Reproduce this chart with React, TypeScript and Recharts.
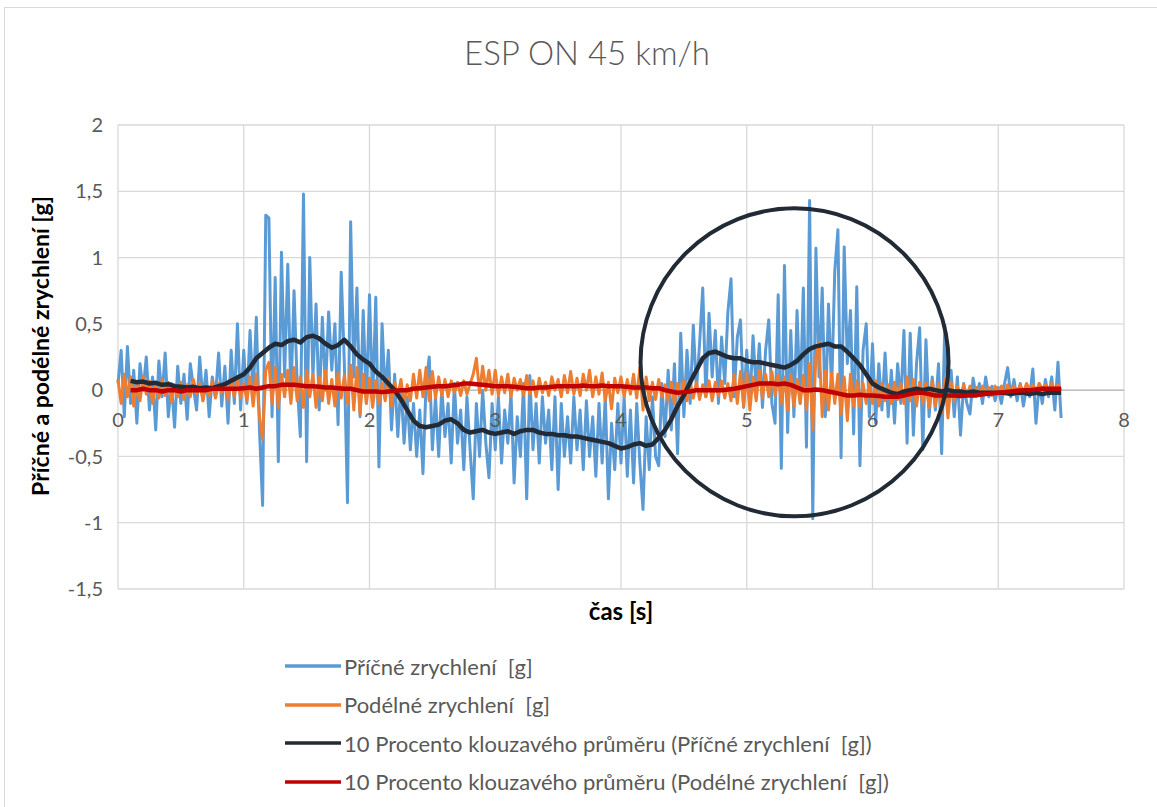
import React from 'react';
import {
  LineChart,
  Line,
  XAxis,
  YAxis,
  CartesianGrid,
  ReferenceLine,
  ReferenceDot,
} from 'recharts';

// Sampling: raw signals every 0.025 s from 0 s, moving averages every 0.05 s from 0.1 s
const RAW_STEP = 0.025;
const AVG_FIRST_INDEX = 4; // t = 0.1 s
const AVG_EVERY = 2;

// Příčné zrychlení [g]  (t = 0 ... 7.5 s)
const PRICNE = [
  0.05, 0.3, -0.2, 0.33, -0.1, 0.15, -0.25, 0.2, 0.0, 0.25, -0.15, 0.1, -0.3, 0.22, -0.05, 0.28, -0.2, 0.05, -0.28, 0.18,
  -0.1, 0.12, -0.22, 0.2, 0.02, -0.15, 0.25, -0.08, 0.15, -0.2, 0.1, -0.05, 0.28, -0.12, 0.18, -0.25, 0.3, -0.1, 0.5, -0.15,
  0.3, -0.1, 0.45, -0.05, 0.55, -0.3, -0.87, 1.32, 1.3, -0.2, 0.85, -0.54, 1.04, 0.1, 0.95, -0.05, 0.75, 0.05, -0.35, 1.48,
  -0.54, 1.0, 0.1, 0.65, -0.15, 0.55, 0.0, 0.59, 0.15, 0.5, -0.26, 0.89, 0.2, -0.85, 1.27, 0.1, 0.77, -0.2, 0.6, -0.1,
  0.72, -0.1, 0.7, -0.58, 0.5, -0.05, 0.3, -0.3, 0.12, -0.35, 0.05, -0.4, -0.05, -0.45, -0.1, -0.5, -0.15, -0.63, 0.05, 0.25,
  -0.45, -0.05, -0.5, 0.02, -0.35, -0.1, -0.55, 0.05, -0.4, -0.15, -0.6, -0.05, -0.45, -0.82, -0.1, -0.5, 0.0, -0.4, -0.66, -0.1,
  -0.45, -0.05, -0.55, -0.15, -0.4, -0.02, -0.7, -0.2, -0.5, 0.05, -0.82, 0.11, -0.45, -0.1, -0.55, -0.05, -0.4, -0.15, -0.6, -0.05,
  -0.75, -0.1, -0.5, -0.2, -0.55, -0.05, -0.45, -0.15, -0.6, -0.08, -0.5, -0.2, -0.65, -0.1, -0.55, -0.05, -0.82, -0.25, -0.6, -0.1,
  -0.55, -0.05, -0.65, -0.15, -0.7, -0.1, -0.55, -0.9, -0.2, -0.6, -0.05, -0.5, -0.57, 0.05, -0.35, 0.15, -0.3, 0.2, -0.48, 0.43,
  -0.2, 0.3, -0.1, 0.49, 0.0, 0.35, 0.77, -0.05, 0.58, 0.1, 0.45, -0.1, 0.4, 0.05, 0.59, 0.84, -0.05, 0.4, 0.53, -0.13,
  0.3, -0.1, 0.41, 0.0, 0.35, -0.13, 0.3, 0.53, -0.1, -0.25, 0.72, -0.59, 0.94, -0.32, 0.45, -0.2, 0.6, -0.1, 0.77, -0.43,
  1.43, -0.97, 1.07, 0.1, 0.77, -0.2, 0.65, 0.0, 0.9, 1.21, -0.51, 1.08, 0.2, 0.6, -0.33, 0.78, -0.57, 0.3, 0.5, -0.2,
  0.35, -0.25, 0.2, -0.15, 0.28, -0.2, 0.15, -0.25, 0.2, -0.1, 0.45, -0.4, 0.43, -0.34, 0.2, 0.47, -0.45, 0.38, -0.2, 0.1,
  -0.15, 0.2, -0.48, 0.49, -0.1, 0.15, -0.2, 0.1, -0.34, 0.05, -0.1, -0.18, 0.09, -0.05, 0.05, -0.1, 0.1, -0.05, 0.03, -0.08,
  0.02, -0.1, 0.05, 0.17, -0.05, 0.08, -0.08, 0.05, -0.12, 0.02, -0.05, 0.16, -0.25, 0.05, -0.1, 0.08, -0.05, 0.1, -0.15, 0.21,
  -0.21,
];

// Podélné zrychlení [g]  (t = 0 ... 7.5 s)
const PODELNE = [
  0.08, -0.1, 0.12, -0.05, 0.1, -0.12, 0.06, -0.08, 0.1, -0.03, 0.07, -0.1, 0.05, -0.06, 0.08, -0.04, 0.06, -0.09, 0.04, -0.05,
  0.06, -0.07, 0.04, -0.05, 0.08, -0.03, 0.05, -0.08, 0.03, -0.04, 0.07, -0.06, 0.05, -0.02, 0.06, -0.07, 0.08, -0.05, 0.1, -0.06,
  0.05, -0.08, 0.1, -0.12, 0.12, -0.2, -0.37, 0.15, 0.21, -0.1, 0.17, -0.13, 0.12, -0.05, 0.15, -0.1, 0.17, -0.08, 0.1, -0.13,
  0.15, -0.05, 0.12, -0.13, 0.1, -0.08, 0.15, -0.1, 0.08, -0.12, 0.13, -0.06, 0.11, -0.1, 0.19, -0.15, 0.17, -0.18, 0.12, -0.1,
  0.09, -0.13, 0.07, -0.1, 0.05, -0.08, 0.09, -0.12, 0.06, -0.05, 0.08, -0.1, 0.04, -0.08, 0.12, -0.06, 0.15, -0.05, 0.17, -0.08,
  0.14, -0.06, 0.1, -0.04, 0.08, -0.05, 0.07, -0.02, 0.06, -0.04, 0.07, -0.03, 0.05, 0.12, 0.24, -0.02, 0.18, 0.0, 0.15, -0.03,
  0.15, -0.04, 0.1, -0.02, 0.12, -0.05, 0.09, 0.0, 0.08, -0.04, 0.11, -0.03, 0.07, -0.05, 0.09, -0.02, 0.06, -0.04, 0.1, 0.0,
  0.08, -0.05, 0.11, -0.02, 0.14, -0.03, 0.09, -0.04, 0.12, 0.0, 0.15, -0.05, 0.1, -0.03, 0.13, -0.08, 0.06, -0.14, 0.09, -0.02,
  0.1, -0.05, 0.08, -0.03, 0.12, -0.06, 0.17, -0.15, 0.1, -0.08, 0.06, -0.07, 0.08, -0.05, 0.04, -0.08, 0.06, -0.1, 0.05, -0.06,
  0.07, -0.08, 0.05, -0.06, 0.06, -0.07, 0.04, -0.05, 0.07, -0.08, 0.06, -0.04, 0.07, -0.06, 0.05, -0.08, 0.12, -0.1, 0.14, -0.12,
  0.13, -0.15, 0.1, -0.08, 0.15, -0.06, 0.12, -0.05, 0.14, -0.04, 0.12, -0.1, 0.1, -0.15, 0.12, -0.12, 0.08, -0.1, 0.11, -0.15,
  0.2, -0.3, 0.25, 0.36, -0.2, 0.15, -0.15, 0.13, -0.1, 0.12, -0.18, 0.1, -0.23, 0.12, -0.12, 0.07, -0.13, 0.05, -0.1, 0.06,
  -0.1, 0.07, -0.12, 0.05, -0.08, 0.04, -0.1, 0.06, -0.07, 0.05, -0.1, 0.1, -0.08, 0.08, -0.12, 0.06, -0.1, 0.05, -0.13, 0.07,
  -0.12, 0.05, -0.17, 0.09, -0.21, 0.06, -0.08, 0.03, -0.05, 0.04, -0.04, 0.03, -0.05, 0.02, -0.04, 0.03, -0.03, 0.02, -0.04, 0.03,
  -0.02, 0.03, -0.03, 0.04, -0.02, 0.03, -0.01, 0.04, -0.02, 0.05, 0.0, 0.04, -0.01, 0.05, 0.01, 0.04, -0.01, 0.05, 0.0, 0.04,
  0.0,
];

// 10 Procento klouzavého průměru (Příčné)  (t = 0.1 ... 7.5 s)
const PRUMER_PRICNE = [
  0.07, 0.06, 0.065, 0.05, 0.055, 0.04, 0.045, 0.03, 0.025, 0.02,
  0.025, 0.015, 0.02, 0.015, 0.03, 0.045, 0.07, 0.095, 0.12, 0.17,
  0.24, 0.28, 0.32, 0.35, 0.34, 0.37, 0.38, 0.36, 0.4, 0.41,
  0.39, 0.35, 0.32, 0.34, 0.38, 0.33, 0.27, 0.23, 0.2, 0.14,
  0.1, 0.05, 0.0, -0.07, -0.15, -0.23, -0.27, -0.28, -0.27, -0.26,
  -0.23, -0.22, -0.25, -0.3, -0.32, -0.31, -0.3, -0.32, -0.33, -0.32,
  -0.31, -0.33, -0.31, -0.3, -0.3, -0.32, -0.33, -0.33, -0.34, -0.34,
  -0.35, -0.35, -0.36, -0.37, -0.38, -0.39, -0.4, -0.42, -0.44, -0.43,
  -0.41, -0.4, -0.42, -0.41, -0.36, -0.3, -0.22, -0.12, -0.04, 0.06,
  0.15, 0.24, 0.28, 0.29, 0.27, 0.25, 0.24, 0.24, 0.22, 0.21,
  0.21, 0.2, 0.19, 0.18, 0.17, 0.19, 0.22, 0.27, 0.31, 0.33,
  0.34, 0.35, 0.33, 0.33, 0.29, 0.24, 0.19, 0.12, 0.05, 0.02,
  0.0, -0.02, -0.03, -0.01, 0.0, 0.01, 0.0, 0.01, 0.0, -0.01,
  0.0, -0.01, -0.01, -0.02, -0.01, -0.02, -0.02, -0.02, -0.02, -0.02,
  -0.03, -0.02, -0.02, -0.03, -0.02, -0.03, -0.02, -0.02, -0.02,
];

// 10 Procento klouzavého průměru (Podélné)  (t = 0.1 ... 7.5 s)
const PRUMER_PODELNE = [
  0.0, 0.0, 0.01, 0.0, 0.0, -0.01, 0.0, 0.0, -0.01, 0.0,
  0.0, 0.0, 0.0, 0.01, 0.01, 0.01, 0.01, 0.01, 0.015, 0.02,
  0.01, 0.02, 0.03, 0.03, 0.04, 0.04, 0.04, 0.035, 0.03, 0.03,
  0.025, 0.02, 0.02, 0.015, 0.01, 0.01, 0.0, -0.01, -0.01, -0.01,
  -0.015, -0.01, -0.005, 0.0, 0.0, 0.01, 0.015, 0.02, 0.025, 0.03,
  0.03, 0.035, 0.04, 0.05, 0.05, 0.045, 0.04, 0.035, 0.03, 0.03,
  0.03, 0.025, 0.02, 0.015, 0.015, 0.02, 0.02, 0.025, 0.03, 0.03,
  0.03, 0.03, 0.035, 0.03, 0.03, 0.035, 0.03, 0.03, 0.03, 0.025,
  0.02, 0.02, 0.02, 0.015, 0.015, 0.0, -0.01, -0.02, -0.015, -0.01,
  0.0, 0.0, 0.0, 0.0, 0.0, 0.005, 0.01, 0.02, 0.03, 0.04,
  0.05, 0.05, 0.05, 0.045, 0.05, 0.04, 0.02, 0.0, 0.0, 0.005,
  0.0, -0.01, -0.02, -0.03, -0.04, -0.04, -0.035, -0.04, -0.04, -0.045,
  -0.05, -0.05, -0.05, -0.04, -0.03, -0.02, -0.02, -0.03, -0.04, -0.04,
  -0.04, -0.04, -0.045, -0.04, -0.04, -0.035, -0.03, -0.025, -0.02, -0.015,
  -0.01, -0.005, 0.0, 0.0, 0.005, 0.01, 0.01, 0.01, 0.01,
];

const X_TICKS = [0, 1, 2, 3, 4, 5, 6, 7, 8];
const Y_TICKS = [-1.5, -1, -0.5, 0, 0.5, 1, 1.5, 2];

// Highlight circle drawn on the chart (centre in data units)
const CIRCLE_T = 5.38;
const CIRCLE_G = 0.21;

const SERIES = [
  { key: 'pricne', name: 'Příčné zrychlení  [g]', color: '#5b9bd5', width: 3 },
  { key: 'podelne', name: 'Podélné zrychlení  [g]', color: '#ed7d31', width: 3 },
  { key: 'prumerPricne', name: '10 Procento klouzavého průměru (Příčné zrychlení  [g])', color: '#222a35', width: 4.5 },
  { key: 'prumerPodelne', name: '10 Procento klouzavého průměru (Podélné zrychlení  [g])', color: '#c00000', width: 4.5 },
];

const rows = PRICNE.map((v, i) => {
  const k = (i - AVG_FIRST_INDEX) / AVG_EVERY;
  const hasAvg = i >= AVG_FIRST_INDEX && Number.isInteger(k) && k < PRUMER_PRICNE.length;
  return {
    t: Math.round(i * RAW_STEP * 1000) / 1000,
    pricne: v,
    podelne: PODELNE[i],
    prumerPricne: hasAvg ? PRUMER_PRICNE[k] : null,
    prumerPodelne: hasAvg ? PRUMER_PODELNE[k] : null,
  };
});

const FONT = 'Lato, "Open Sans", sans-serif';
const GREY_TEXT = '#595959';

const W = 1157;
const H = 807;
const MARGIN = { top: 125, right: 33, left: 58, bottom: 178 };
const Y_AXIS_W = 60;
const X_AXIS_H = 40;
const Y_MIN = -1.5;
const Y_MAX = 2;
const PLOT_H = H - MARGIN.top - MARGIN.bottom - X_AXIS_H;
// x labels sit under the zero line, like in Excel
const ZERO_Y = MARGIN.top + (PLOT_H * Y_MAX) / (Y_MAX - Y_MIN);

const fmt = (v: number) => String(v).replace('.', ',');

const ZeroAxisTick = (props: any) => {
  const { x, payload } = props;
  return (
    <text x={x} y={ZERO_Y + 37} textAnchor="middle" fill={GREY_TEXT} fontSize={20} fontFamily={FONT}>
      {payload.value}
    </text>
  );
};

const YTitle = (props: any) => {
  const vb = props.viewBox || { x: 0, y: 0, height: 0 };
  const cx = vb.x - 18;
  const cy = vb.y + vb.height / 2 - 11;
  return (
    <text
      transform={`translate(${cx},${cy}) rotate(-90)`}
      textAnchor="middle"
      dominantBaseline="central"
      fontSize={23}
      fontWeight={700}
      fontFamily={FONT}
      fill="#000"
    >
      Příčné a podélné zrychlení [g]
    </text>
  );
};

const App: React.FC = () => {
  return (
    <div
      style={{
        position: 'absolute',
        left: 0,
        top: 0,
        width: W,
        height: H,
        overflow: 'hidden',
        background: '#fff',
        fontFamily: FONT,
      }}
    >
      {/* chart frame, runs off the right and bottom edge */}
      <div
        style={{
          position: 'absolute',
          left: 4,
          top: 7,
          width: 1300,
          height: 900,
          border: '1px solid #d9d9d9',
        }}
      />

      <div
        style={{
          position: 'absolute',
          left: 587,
          top: 31,
          transform: 'translateX(-50%)',
          fontSize: 33,
          fontWeight: 300,
          color: GREY_TEXT,
          whiteSpace: 'nowrap',
          lineHeight: '42px',
        }}
      >
        ESP ON 45 km/h
      </div>

      <div style={{ position: 'absolute', left: 0, top: 0 }}>
        <LineChart width={W} height={H} data={rows} margin={MARGIN}>
          <CartesianGrid stroke="#d9d9d9" strokeWidth={1.3} />
          <XAxis
            dataKey="t"
            type="number"
            domain={[0, 8]}
            ticks={X_TICKS}
            interval={0}
            height={X_AXIS_H}
            axisLine={false}
            tickLine={false}
            tick={<ZeroAxisTick />}
            label={{
              value: 'čas [s]',
              position: 'insideBottom',
              offset: 9,
              fontSize: 24,
              fontWeight: 700,
              fontFamily: FONT,
              fill: '#000',
            }}
          />
          <YAxis
            type="number"
            domain={[Y_MIN, Y_MAX]}
            ticks={Y_TICKS}
            interval={0}
            width={Y_AXIS_W}
            axisLine={false}
            tickLine={false}
            tickSize={0}
            tickMargin={15}
            tickFormatter={fmt}
            tick={{ fill: GREY_TEXT, fontSize: 20, fontFamily: FONT }}
            label={<YTitle />}
          />
          <ReferenceLine y={0} stroke="#bfbfbf" strokeWidth={1.5} />
          {SERIES.map((s) => (
            <Line
              key={s.key}
              type="linear"
              dataKey={s.key}
              name={s.name}
              stroke={s.color}
              strokeWidth={s.width}
              strokeLinejoin="round"
              dot={false}
              activeDot={false}
              connectNulls
              isAnimationActive={false}
            />
          ))}
          <ReferenceDot
            x={CIRCLE_T}
            y={CIRCLE_G}
            r={154}
            fill="none"
            stroke="#222a35"
            strokeWidth={4}
          />
        </LineChart>
      </div>

      {/* legend */}
      <div style={{ position: 'absolute', left: 285, top: 647 }}>
        {SERIES.map((s) => (
          <div key={s.key} style={{ display: 'flex', alignItems: 'center', height: 38.5 }}>
            <svg width={56} height={10} style={{ marginRight: 3 }}>
              <line x1={0} y1={5} x2={56} y2={5} stroke={s.color} strokeWidth={3.5} />
            </svg>
            <span style={{ fontSize: 22, color: GREY_TEXT, whiteSpace: 'pre' }}>{s.name}</span>
          </div>
        ))}
      </div>
    </div>
  );
};

export default App;
